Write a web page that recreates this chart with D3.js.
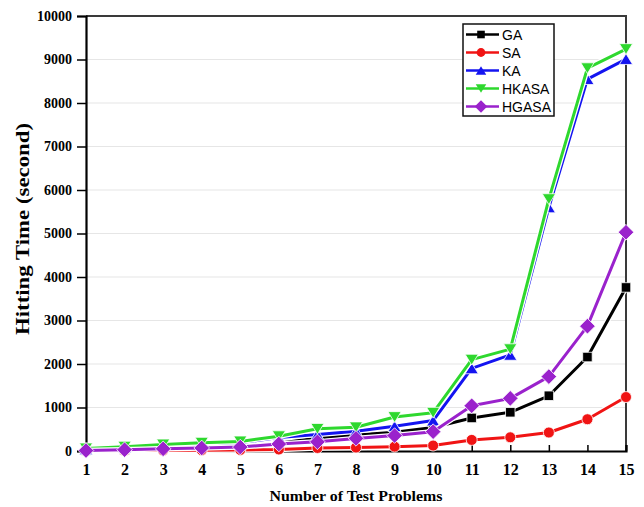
<!DOCTYPE html>
<html><head><meta charset="utf-8">
<script src="https://cdn.jsdelivr.net/npm/d3@7"></script>
<style>body{margin:0;background:#fff}svg{display:block}</style>
</head><body>
<svg id="c" width="644" height="507"></svg>
<script>
const problems = [1,2,3,4,5,6,7,8,9,10,11,12,13,14,15];
const yTicks = [0,1000,2000,3000,4000,5000,6000,7000,8000,9000,10000];
const seriesNames = ["GA","SA","KA","HKASA","HGASA"];
const GA    = [15,30,50,70,80,180,300,370,430,540,760,890,1270,2160,3760];
const SA    = [5,10,15,20,25,35,70,80,100,125,255,315,425,730,1240];
const KA    = [40,80,130,160,190,310,380,455,570,700,1900,2210,5600,8550,9010];
const HKASA = [60,100,150,190,220,340,510,545,780,880,2100,2340,5790,8800,9240];
const HGASA = [10,30,50,70,90,160,210,290,355,445,1040,1210,1710,2870,5030];
const seriesValues = [GA,SA,KA,HKASA,HGASA];
const colors = ["#000000","#f01414","#1414f0","#2ed82e","#9a22cc"];
const symbols = ["square","circle","up","down","diamond"];

const svg = d3.select("#c");
const L=86,R=626,T=16,B=451;
const x = d3.scaleLinear().domain([1,15]).range([L,R]);
const y = d3.scaleLinear().domain([0,10000]).range([B,T]);

// gridlines
svg.append("g").selectAll("line").data(yTicks.filter(d=>d>0&&d<10000)).join("line")
  .attr("x1",L).attr("x2",R).attr("y1",d=>y(d)).attr("y2",d=>y(d))
  .attr("stroke","#e6e6e6").attr("stroke-width",1.2);

// frame top/right
svg.append("path").attr("d",`M${L},${T}H${R}V${B}`).attr("fill","none")
  .attr("stroke","#3a3a3a").attr("stroke-width",2);

// y axis
const ya = svg.append("g").attr("transform",`translate(${L},0)`)
  .call(d3.axisLeft(y).tickValues(yTicks).tickSize(9).tickPadding(5).tickFormat(d3.format("d")));
ya.select(".domain").attr("stroke","#000").attr("stroke-width",2.2);
ya.selectAll(".tick line").attr("stroke","#000").attr("stroke-width",1.5);
ya.selectAll(".tick text").attr("font-family","'Liberation Serif',serif").attr("font-weight","bold")
  .attr("font-size",14).attr("fill","#000");

// x axis
const xa = svg.append("g").attr("transform",`translate(0,${B})`)
  .call(d3.axisBottom(x).tickValues(problems).tickSize(-6).tickPadding(13).tickFormat(d3.format("d")));
xa.select(".domain").attr("stroke","#000").attr("stroke-width",2.2);
xa.selectAll(".tick line").attr("stroke","#000").attr("stroke-width",1.5);
xa.selectAll(".tick text").attr("font-family","'Liberation Serif',serif").attr("font-weight","bold")
  .attr("font-size",16).attr("fill","#000");

// titles
svg.append("text").attr("x",356).attr("y",501).attr("text-anchor","middle")
  .attr("font-family","'Liberation Serif',serif").attr("font-weight","bold").attr("font-size",15.5)
  .attr("textLength",173).attr("lengthAdjust","spacingAndGlyphs")
  .text("Number of Test Problems");
svg.append("text").attr("transform","translate(29,229) rotate(-90)").attr("text-anchor","middle")
  .attr("font-family","'Liberation Serif',serif").attr("font-weight","bold").attr("font-size",19)
  .attr("textLength",212).attr("lengthAdjust","spacingAndGlyphs")
  .text("Hitting Time (second)");

function sym(i,s){
  const t = symbols[i];
  if(t==="square") return d3.symbol().type(d3.symbolSquare).size(s*s)();
  if(t==="circle") return d3.symbol().type(d3.symbolCircle).size(Math.PI*s*s/4)();
  if(t==="up"||t==="down"){ const h=s*0.9, w=s*1.1; return `M0,${-h/2}L${w/2},${h/2}L${-w/2},${h/2}Z`; }
  const r=s*0.65; return `M0,${-r}L${r},0L0,${r}L${-r},0Z`;
}
const msize=[9.5,11,12,12,12];
const line = d3.line().x((d,i)=>x(problems[i])).y(d=>y(d));

seriesValues.forEach((vals,i)=>{
  const g = svg.append("g");
  g.append("path").attr("d",line(vals)).attr("fill","none").attr("stroke","#fff").attr("stroke-width",5.5).attr("stroke-linejoin","round");
  g.append("path").attr("d",line(vals)).attr("fill","none").attr("stroke",colors[i]).attr("stroke-width",3).attr("stroke-linejoin","round");
  g.selectAll("path.m").data(vals).join("path").attr("class","m")
    .attr("d",sym(i,msize[i]))
    .attr("transform",(d,j)=>`translate(${x(problems[j])},${y(d)})${symbols[i]==="down"?" rotate(180)":""}`)
    .attr("fill",colors[i]).attr("stroke","#fff").attr("stroke-width",0.8);
});

// legend
const lg = svg.append("g");
lg.append("rect").attr("x",463).attr("y",24).attr("width",91).attr("height",92)
  .attr("fill","#fff").attr("stroke","#111").attr("stroke-width",1.5);
seriesNames.forEach((n,i)=>{
  const yy = 34.5 + i*18;
  lg.append("line").attr("x1",466).attr("x2",499).attr("y1",yy).attr("y2",yy)
    .attr("stroke",colors[i]).attr("stroke-width",2.5);
  lg.append("path").attr("d",sym(i,msize[i]*0.8))
    .attr("transform",`translate(481,${yy})${symbols[i]==="down"?" rotate(180)":""}`)
    .attr("fill",colors[i]);
  lg.append("text").attr("x",502).attr("y",yy+5).attr("font-family","'Liberation Sans',Arial,sans-serif")
    .attr("font-size",14).attr("fill","#000").text(n);
});
</script>
</body></html>
